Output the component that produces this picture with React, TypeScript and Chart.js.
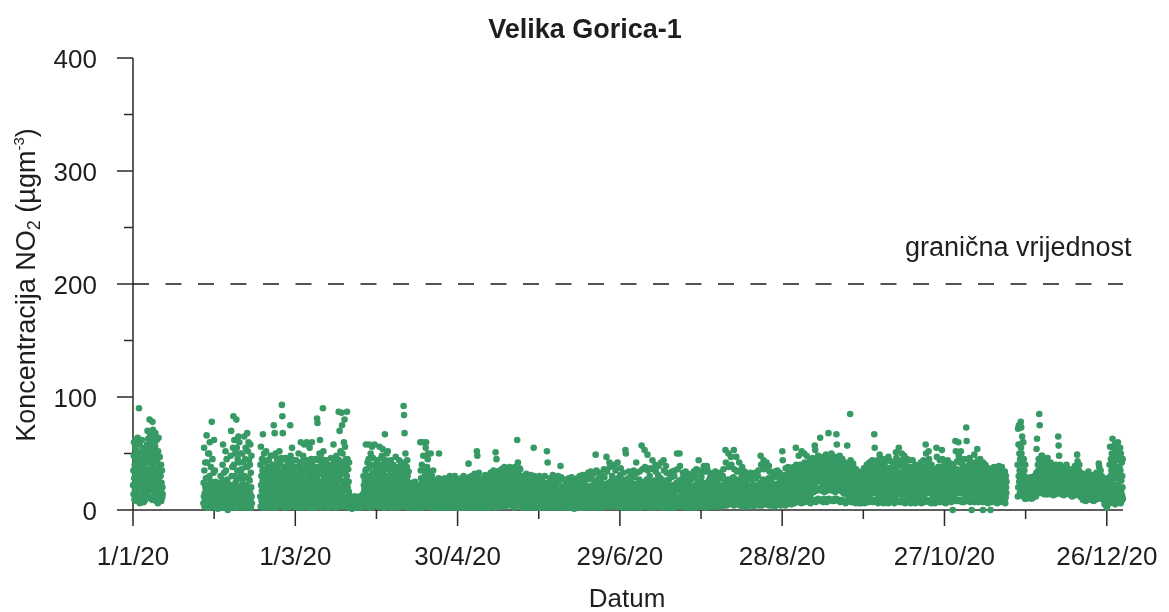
import React, { useEffect, useRef } from "react";
import { Chart, registerables } from "chart.js";

Chart.register(...registerables);

// ---------- DATA (NO2 concentrations, 12 values per day) ----------
const VALUES_PER_DAY = 12;

// 1–11 Jan
const jan1to11 = [
  22, 35, 14, 48, 60, 28, 9, 40, 18, 55, 31, 12,
  16, 44, 26, 62, 8, 37, 52, 20, 64, 33, 11, 46,
  30, 12, 90, 41, 58, 24, 6, 50, 19, 36, 61, 27,
  10, 42, 21, 62, 34, 15, 55, 8, 29, 47, 18, 38,
  7, 25, 13, 40, 20, 52, 9, 31, 16, 45, 11, 23,
  15, 36, 58, 24, 70, 42, 11, 63, 30, 48, 19, 54,
  26, 80, 44, 18, 66, 35, 57, 12, 49, 22, 61, 38,
  9, 41, 78, 28, 71, 53, 17, 64, 33, 46, 21, 59,
  32, 14, 56, 68, 25, 43, 8, 50, 37, 62, 19, 45,
  12, 34, 6, 52, 27, 64, 18, 40, 10, 30, 47, 22,
  9, 18, 30, 13, 40, 8, 24, 15, 35, 11, 20, 14,
];
// 27 Jan – 13 Feb
const jan27toFeb13 = [
  6, 24, 12, 55, 35, 3, 15, 9, 42, 20, 4, 28,
  18, 4, 66, 28, 9, 42, 13, 2, 22, 50, 7, 16,
  2, 50, 14, 30, 60, 21, 8, 17, 5, 38, 11, 25,
  11, 78, 5, 24, 45, 16, 3, 20, 9, 33, 14, 62,
  8, 19, 2, 35, 13, 25, 5, 11, 17, 3, 22, 7,
  4, 16, 10, 24, 1, 20, 12, 6, 18, 3, 9, 14,
  13, 3, 22, 8, 30, 17, 5, 11, 19, 2, 25, 9,
  7, 40, 18, 58, 2, 26, 12, 4, 33, 15, 9, 21,
  15, 5, 52, 11, 35, 21, 3, 45, 8, 18, 27, 12,
  0, 12, 23, 6, 18, 9, 3, 15, 20, 5, 11, 2,
  19, 48, 3, 70, 10, 30, 6, 14, 38, 22, 8, 55,
  8, 83, 14, 40, 22, 62, 4, 30, 11, 50, 18, 2,
  25, 6, 80, 17, 55, 12, 35, 3, 45, 9, 28, 65,
  3, 42, 20, 60, 9, 28, 14, 50, 6, 33, 17, 2,
  14, 36, 5, 22, 50, 11, 27, 3, 18, 42, 8, 30,
  7, 65, 18, 30, 2, 45, 12, 55, 22, 5, 38, 15,
  21, 9, 68, 38, 13, 52, 4, 28, 60, 16, 44, 7,
  4, 26, 40, 15, 58, 10, 33, 2, 20, 48, 12, 6,
];
// 17–29 Feb
const feb17to29 = [
  12, 40, 3, 56, 22, 30, 8, 17, 45, 5, 35, 26,
  67, 8, 25, 36, 15, 50, 2, 42, 20, 11, 31, 6,
  4, 28, 52, 18, 35, 10, 24, 7, 44, 14, 3, 38,
  20, 2, 44, 13, 38, 26, 9, 33, 5, 16, 48, 11,
  9, 30, 16, 48, 5, 22, 40, 2, 27, 12, 35, 19,
  75, 14, 40, 7, 68, 24, 32, 4, 50, 18, 10, 28,
  2, 26, 11, 45, 19, 36, 6, 30, 15, 40, 23, 8,
  17, 52, 6, 28, 42, 10, 34, 3, 21, 46, 13, 25,
  93, 21, 83, 4, 68, 32, 12, 45, 26, 7, 38, 16,
  13, 38, 2, 24, 46, 8, 30, 18, 5, 35, 10, 27,
  27, 6, 42, 16, 34, 20, 3, 11, 38, 24, 9, 45,
  3, 75, 12, 48, 25, 30, 7, 40, 18, 55, 14, 22,
  15, 35, 7, 22, 44, 11, 28, 3, 19, 38, 9, 30,
];
// March
const mar = [
  8, 32, 15, 44, 4, 25, 19, 38, 11, 2, 28, 14,
  20, 3, 50, 12, 38, 28, 7, 34, 16, 42, 23, 5,
  60, 10, 30, 5, 42, 18, 25, 36, 2, 14, 48, 21,
  14, 45, 24, 58, 8, 34, 3, 19, 40, 11, 28, 6,
  3, 26, 60, 12, 36, 20, 9, 44, 16, 30, 5, 24,
  40, 7, 22, 55, 15, 30, 2, 35, 18, 10, 45, 26,
  24, 60, 9, 42, 16, 4, 33, 20, 12, 38, 27, 6,
  12, 30, 2, 20, 45, 8, 25, 15, 36, 5, 18, 28,
  81, 26, 77, 12, 38, 6, 44, 20, 32, 3, 15, 50,
  5, 62, 20, 32, 48, 14, 9, 38, 25, 2, 42, 17,
  36, 9, 90, 22, 52, 14, 28, 4, 44, 18, 33, 11,
  16, 38, 4, 25, 44, 10, 30, 20, 7, 35, 13, 2,
  6, 28, 12, 40, 18, 3, 23, 34, 9, 15, 30, 5,
  27, 10, 46, 20, 35, 7, 14, 40, 3, 25, 18, 31,
  4, 58, 18, 30, 42, 13, 26, 8, 36, 21, 2, 45,
  22, 8, 48, 28, 12, 40, 5, 33, 17, 38, 26, 10,
  87, 12, 44, 28, 70, 6, 35, 20, 52, 3, 40, 16,
  15, 86, 32, 75, 10, 50, 24, 42, 5, 36, 18, 60,
  40, 7, 80, 26, 56, 18, 33, 12, 45, 3, 22, 38,
  30, 87, 5, 45, 20, 12, 36, 8, 25, 16, 42, 2,
  3, 10, 6, 12, 2, 8, 5, 9, 4, 11, 7, 1,
  5, 2, 11, 7, 9, 4, 8, 3, 12, 6, 10, 2,
  7, 12, 3, 10, 6, 2, 9, 4, 11, 5, 8, 3,
  4, 9, 11, 5, 8, 3, 10, 6, 2, 12, 7, 5,
  10, 2, 6, 12, 4, 8, 3, 11, 7, 5, 9, 14,
  14, 4, 30, 10, 22, 6, 18, 3, 26, 8, 12, 35,
  22, 58, 8, 36, 20, 3, 28, 14, 42, 6, 30, 11,
  10, 45, 5, 58, 18, 30, 38, 2, 24, 14, 50, 8,
  28, 4, 40, 20, 56, 12, 33, 8, 46, 17, 3, 25,
  8, 32, 14, 58, 4, 22, 40, 18, 28, 6, 36, 11,
  26, 9, 44, 16, 36, 5, 20, 30, 3, 13, 40, 24,
];
// April
const apr = [
  18, 56, 5, 40, 28, 11, 34, 3, 22, 46, 14, 8,
  48, 4, 22, 54, 14, 32, 9, 38, 26, 2, 18, 42,
  10, 67, 30, 6, 44, 20, 36, 15, 3, 50, 25, 12,
  26, 7, 52, 15, 38, 3, 20, 42, 10, 31, 5, 17,
  5, 36, 20, 44, 8, 24, 13, 30, 2, 40, 18, 27,
  22, 12, 40, 3, 30, 6, 18, 35, 9, 25, 14, 4,
  9, 47, 16, 25, 4, 38, 21, 12, 33, 2, 28, 7,
  34, 3, 24, 14, 44, 8, 18, 30, 5, 38, 11, 22,
  6, 40, 20, 28, 12, 42, 3, 33, 16, 24, 9, 36,
  92, 14, 84, 30, 68, 9, 40, 22, 50, 4, 35, 18,
  18, 4, 38, 26, 44, 10, 30, 14, 2, 22, 34, 7,
  8, 16, 3, 22, 12, 5, 18, 10, 2, 14, 20, 6,
  14, 2, 24, 9, 18, 4, 11, 20, 6, 16, 3, 12,
  10, 20, 3, 25, 12, 6, 17, 8, 22, 4, 14, 2,
  3, 15, 8, 21, 10, 2, 12, 6, 18, 4, 9, 14,
  22, 6, 60, 14, 35, 4, 28, 10, 18, 40, 2, 25,
  3, 60, 18, 48, 8, 28, 12, 35, 22, 5, 30, 15,
  30, 8, 55, 16, 60, 5, 24, 12, 38, 20, 3, 45,
  12, 50, 5, 34, 20, 3, 26, 9, 16, 30, 7, 22,
  50, 7, 26, 4, 18, 10, 30, 14, 2, 22, 12, 35,
  4, 18, 8, 25, 14, 2, 11, 20, 6, 16, 3, 23,
  15, 3, 26, 10, 20, 6, 13, 2, 22, 8, 17, 28,
  2, 50, 12, 24, 5, 16, 20, 8, 14, 3, 26, 10,
  13, 27, 3, 17, 9, 5, 22, 11, 2, 19, 7, 15,
  22, 4, 28, 11, 16, 3, 8, 19, 13, 2, 25, 6,
  6, 19, 2, 25, 12, 8, 15, 4, 21, 10, 3, 17,
  15, 30, 5, 24, 4, 12, 20, 9, 2, 17, 26, 7,
  2, 14, 26, 10, 18, 3, 7, 22, 12, 5, 16, 30,
  9, 28, 4, 21, 16, 5, 13, 2, 24, 11, 18, 6,
  23, 11, 2, 27, 13, 4, 8, 19, 15, 3, 21, 9,
];
// May
const may = [
  5, 22, 10, 28, 3, 15, 8, 18, 2, 12, 25, 6,
  18, 4, 30, 12, 25, 2, 9, 20, 15, 6, 11, 3,
  9, 26, 2, 20, 14, 6, 17, 4, 11, 23, 8, 13,
  41, 5, 17, 29, 3, 12, 20, 8, 14, 2, 24, 10,
  16, 30, 4, 24, 11, 3, 19, 7, 13, 26, 2, 9,
  6, 26, 13, 32, 4, 18, 10, 21, 2, 15, 8, 24,
  22, 52, 4, 48, 16, 6, 28, 11, 19, 2, 33, 9,
  3, 15, 28, 10, 22, 5, 12, 19, 7, 25, 2, 17,
  13, 2, 27, 9, 19, 3, 16, 6, 22, 11, 4, 14,
  24, 6, 31, 12, 16, 4, 20, 9, 27, 2, 14, 18,
  2, 23, 14, 29, 3, 11, 18, 7, 25, 13, 5, 20,
  17, 4, 33, 13, 26, 5, 10, 22, 3, 19, 8, 28,
  6, 28, 12, 35, 20, 4, 16, 24, 9, 30, 2, 14,
  51, 8, 29, 18, 45, 6, 22, 12, 34, 3, 25, 15,
  12, 34, 3, 26, 18, 5, 22, 9, 30, 14, 7, 20,
  20, 5, 36, 14, 30, 3, 25, 10, 18, 8, 28, 12,
  8, 32, 16, 38, 6, 24, 13, 28, 3, 20, 11, 35,
  22, 4, 35, 18, 37, 9, 27, 14, 31, 6, 24, 12,
  7, 26, 14, 38, 20, 34, 10, 30, 4, 22, 17, 28,
  30, 6, 22, 15, 36, 4, 26, 12, 33, 9, 19, 2,
  3, 24, 38, 17, 6, 33, 12, 28, 20, 9, 36, 15,
  62, 10, 28, 42, 20, 8, 32, 16, 24, 4, 37, 13,
  14, 36, 5, 20, 30, 4, 25, 11, 17, 2, 28, 9,
  6, 24, 11, 30, 3, 16, 20, 8, 26, 13, 2, 18,
  18, 2, 26, 12, 32, 4, 22, 9, 15, 28, 6, 11,
  5, 22, 10, 28, 2, 15, 18, 7, 24, 12, 3, 20,
  17, 31, 3, 25, 13, 5, 21, 9, 15, 27, 2, 11,
  4, 55, 19, 30, 6, 15, 24, 10, 28, 2, 13, 21,
  23, 6, 14, 29, 3, 10, 18, 26, 8, 16, 2, 21,
  2, 16, 30, 12, 24, 4, 20, 9, 27, 14, 6, 18,
  13, 27, 5, 21, 2, 9, 16, 24, 11, 3, 19, 7,
];
// June
const jun = [
  16, 3, 30, 11, 24, 4, 11, 8, 17, 13, 2, 21,
  52, 5, 22, 42, 16, 6, 20, 12, 23, 3, 19, 9,
  2, 28, 10, 22, 15, 3, 10, 7, 15, 12, 5, 20,
  25, 6, 31, 12, 17, 4, 13, 9, 17, 2, 14, 19,
  13, 27, 2, 20, 9, 4, 8, 23, 6, 11, 18, 3,
  3, 16, 30, 13, 24, 5, 12, 8, 17, 11, 2, 18,
  39, 5, 15, 29, 12, 4, 14, 9, 15, 2, 18, 7,
  10, 21, 2, 27, 14, 3, 9, 6, 13, 12, 4, 19,
  19, 4, 25, 8, 12, 2, 8, 21, 6, 14, 3, 10,
  3, 28, 15, 22, 11, 4, 11, 7, 15, 13, 2, 17,
  14, 29, 5, 26, 10, 3, 12, 8, 13, 16, 2, 12,
  20, 1, 25, 9, 13, 2, 9, 6, 12, 11, 4, 15,
  4, 23, 11, 28, 15, 3, 11, 8, 15, 13, 2, 21,
  17, 30, 3, 24, 12, 5, 13, 9, 17, 14, 2, 19,
  5, 26, 13, 31, 18, 2, 14, 9, 18, 15, 4, 20,
  22, 4, 29, 10, 15, 3, 10, 7, 15, 12, 2, 20,
  6, 27, 19, 33, 14, 4, 15, 10, 20, 16, 3, 21,
  20, 3, 34, 15, 28, 6, 16, 11, 21, 17, 2, 9,
  13, 32, 5, 26, 18, 4, 14, 9, 19, 15, 3, 20,
  49, 7, 22, 35, 14, 4, 19, 11, 21, 18, 2, 24,
  6, 28, 19, 33, 14, 5, 16, 10, 20, 16, 3, 21,
  25, 2, 31, 12, 17, 3, 13, 8, 17, 14, 5, 19,
  15, 36, 4, 29, 20, 6, 17, 11, 22, 17, 3, 23,
  47, 6, 21, 34, 16, 4, 19, 11, 20, 18, 3, 24,
  24, 42, 7, 38, 18, 5, 21, 13, 23, 21, 3, 26,
  3, 30, 16, 40, 22, 4, 19, 11, 24, 19, 7, 25,
  39, 6, 23, 17, 35, 5, 20, 12, 21, 20, 3, 25,
  20, 42, 3, 28, 14, 6, 16, 10, 23, 17, 4, 22,
  5, 31, 21, 37, 15, 4, 18, 11, 19, 18, 2, 23,
  27, 2, 18, 33, 13, 4, 14, 9, 19, 16, 6, 20,
];
// July
const jul = [
  53, 6, 50, 24, 18, 4, 22, 12, 25, 20, 2, 27,
  4, 28, 14, 34, 19, 6, 17, 10, 21, 17, 3, 22,
  26, 3, 32, 12, 17, 2, 14, 9, 19, 15, 5, 20,
  15, 35, 5, 29, 20, 4, 18, 11, 22, 18, 2, 23,
  42, 4, 21, 33, 16, 6, 19, 11, 20, 19, 3, 24,
  13, 27, 3, 34, 18, 5, 16, 10, 20, 16, 2, 21,
  57, 5, 22, 36, 17, 3, 20, 12, 23, 20, 7, 25,
  24, 53, 6, 38, 18, 7, 22, 13, 25, 21, 3, 27,
  16, 4, 49, 35, 21, 5, 20, 11, 22, 19, 2, 25,
  30, 5, 20, 37, 15, 3, 18, 11, 23, 18, 8, 24,
  44, 6, 23, 36, 18, 4, 21, 12, 23, 20, 2, 26,
  22, 40, 4, 34, 16, 6, 19, 11, 21, 19, 3, 24,
  17, 31, 5, 39, 21, 3, 18, 10, 24, 14, 7, 24,
  28, 3, 42, 14, 19, 5, 16, 10, 21, 17, 2, 22,
  6, 44, 18, 35, 24, 4, 21, 12, 22, 20, 3, 26,
  39, 4, 20, 33, 15, 6, 18, 10, 19, 18, 2, 23,
  13, 27, 2, 32, 18, 3, 15, 9, 19, 15, 6, 21,
  29, 4, 19, 34, 14, 5, 17, 10, 21, 17, 2, 22,
  16, 30, 6, 35, 21, 4, 19, 11, 22, 19, 3, 24,
  23, 50, 3, 36, 18, 6, 21, 12, 23, 21, 8, 26,
  50, 7, 39, 22, 17, 5, 20, 12, 24, 20, 3, 25,
  14, 28, 4, 33, 19, 3, 16, 9, 20, 16, 6, 22,
  29, 6, 20, 34, 15, 4, 17, 10, 21, 18, 2, 23,
  13, 32, 5, 27, 18, 3, 15, 9, 19, 15, 6, 21,
  26, 3, 31, 12, 17, 5, 14, 8, 18, 14, 2, 20,
  4, 28, 14, 34, 19, 2, 16, 10, 20, 16, 6, 22,
  30, 6, 21, 36, 16, 4, 19, 11, 23, 19, 3, 25,
  17, 44, 5, 35, 22, 7, 20, 12, 22, 20, 3, 26,
  4, 29, 15, 33, 20, 3, 17, 10, 20, 17, 7, 23,
  39, 6, 21, 34, 16, 5, 19, 11, 21, 19, 2, 24,
  22, 39, 4, 36, 17, 5, 20, 12, 23, 20, 8, 26,
];
// August
const aug = [
  14, 33, 3, 28, 19, 5, 16, 9, 20, 16, 7, 22,
  27, 4, 32, 13, 18, 6, 15, 10, 19, 15, 3, 21,
  6, 29, 15, 34, 20, 4, 18, 11, 21, 17, 8, 23,
  26, 3, 31, 12, 17, 5, 14, 9, 18, 14, 7, 20,
  14, 33, 5, 28, 19, 3, 17, 10, 20, 16, 8, 22,
  30, 6, 21, 36, 16, 4, 19, 12, 23, 19, 9, 24,
  53, 6, 42, 18, 24, 4, 22, 13, 26, 21, 9, 27,
  17, 50, 5, 38, 23, 7, 23, 13, 25, 20, 10, 27,
  47, 7, 40, 19, 25, 5, 24, 14, 27, 22, 10, 29,
  22, 53, 4, 36, 18, 6, 22, 13, 24, 25, 9, 27,
  47, 8, 21, 34, 17, 6, 21, 12, 22, 24, 10, 26,
  16, 42, 5, 35, 20, 4, 20, 11, 21, 23, 8, 25,
  30, 6, 38, 15, 21, 3, 18, 11, 23, 18, 9, 24,
  14, 34, 6, 31, 19, 5, 17, 10, 19, 16, 8, 22,
  27, 3, 32, 13, 18, 4, 15, 9, 18, 15, 7, 20,
  6, 29, 15, 33, 19, 5, 17, 10, 20, 17, 8, 22,
  26, 4, 31, 12, 17, 3, 14, 9, 18, 14, 7, 20,
  14, 33, 7, 28, 19, 5, 17, 10, 20, 16, 9, 22,
  30, 5, 35, 15, 20, 4, 18, 11, 22, 18, 8, 24,
  48, 6, 40, 17, 23, 4, 22, 12, 25, 20, 9, 27,
  16, 44, 7, 36, 22, 5, 21, 12, 23, 19, 10, 26,
  40, 7, 42, 18, 24, 5, 23, 13, 26, 21, 10, 28,
  15, 39, 4, 34, 21, 6, 19, 11, 21, 18, 8, 24,
  28, 6, 33, 14, 19, 4, 17, 10, 20, 16, 8, 22,
  15, 29, 3, 34, 20, 5, 18, 11, 21, 17, 9, 23,
  30, 7, 35, 16, 21, 5, 19, 12, 22, 19, 9, 24,
  14, 33, 5, 28, 20, 4, 17, 10, 20, 17, 8, 22,
  52, 7, 44, 18, 25, 6, 23, 13, 26, 21, 10, 28,
  16, 31, 4, 37, 22, 5, 20, 12, 23, 19, 9, 25,
  32, 7, 38, 17, 23, 6, 21, 12, 24, 20, 10, 26,
  15, 36, 6, 30, 21, 5, 19, 11, 22, 18, 9, 24,
];
// September
const sep = [
  32, 7, 38, 16, 23, 6, 28, 12, 34, 20, 16, 26,
  55, 8, 40, 18, 25, 7, 31, 13, 36, 22, 16, 28,
  20, 48, 7, 36, 26, 9, 32, 14, 40, 23, 17, 29,
  34, 6, 52, 17, 24, 8, 30, 13, 38, 21, 16, 27,
  22, 50, 9, 42, 28, 7, 34, 15, 39, 25, 18, 31,
  48, 8, 39, 20, 30, 10, 35, 16, 42, 26, 18, 32,
  19, 36, 7, 44, 27, 6, 32, 14, 40, 24, 17, 29,
  40, 9, 46, 23, 30, 8, 35, 16, 43, 27, 18, 33,
  57, 8, 53, 24, 32, 7, 38, 17, 45, 28, 19, 35,
  26, 42, 10, 48, 33, 9, 37, 18, 44, 29, 19, 35,
  64, 9, 45, 25, 31, 8, 36, 17, 42, 28, 18, 34,
  22, 40, 7, 47, 30, 10, 36, 16, 43, 27, 19, 33,
  43, 8, 49, 24, 32, 7, 37, 17, 45, 28, 18, 35,
  27, 68, 10, 46, 34, 9, 39, 18, 44, 30, 20, 36,
  44, 9, 50, 25, 33, 8, 38, 17, 46, 29, 19, 35,
  23, 42, 8, 47, 31, 10, 37, 16, 44, 27, 18, 34,
  67, 10, 58, 28, 36, 9, 40, 19, 47, 31, 20, 37,
  24, 43, 8, 48, 32, 7, 37, 17, 44, 28, 18, 35,
  40, 9, 45, 22, 30, 8, 35, 15, 41, 26, 18, 32,
  20, 36, 7, 42, 27, 6, 32, 14, 38, 24, 16, 29,
  57, 8, 40, 21, 28, 9, 33, 14, 37, 25, 17, 30,
  24, 85, 9, 44, 30, 7, 35, 15, 40, 26, 18, 32,
  35, 7, 41, 19, 26, 8, 31, 13, 37, 23, 16, 28,
  17, 31, 6, 36, 23, 7, 28, 12, 33, 20, 15, 25,
  30, 7, 34, 16, 22, 6, 27, 11, 31, 19, 15, 24,
  15, 28, 6, 33, 21, 8, 25, 11, 30, 18, 15, 23,
  31, 7, 37, 17, 24, 6, 28, 12, 33, 20, 16, 26,
  19, 34, 8, 40, 26, 7, 30, 13, 36, 22, 16, 28,
  36, 7, 42, 20, 27, 9, 32, 14, 38, 24, 17, 30,
  21, 38, 8, 44, 28, 7, 33, 15, 40, 25, 17, 31,
];
// October
const oct = [
  67, 9, 55, 24, 30, 8, 35, 15, 42, 27, 18, 33,
  20, 38, 7, 44, 27, 6, 32, 13, 36, 23, 16, 29,
  49, 8, 40, 22, 28, 9, 33, 14, 38, 25, 17, 31,
  19, 36, 7, 45, 26, 6, 31, 13, 38, 23, 16, 29,
  43, 9, 38, 21, 28, 8, 32, 14, 36, 25, 17, 30,
  18, 34, 6, 47, 25, 7, 30, 12, 37, 22, 16, 28,
  37, 8, 43, 20, 27, 9, 31, 13, 36, 24, 17, 29,
  19, 35, 7, 41, 26, 6, 30, 12, 34, 22, 16, 28,
  51, 9, 46, 23, 30, 8, 34, 15, 39, 26, 18, 32,
  22, 55, 8, 44, 29, 7, 33, 14, 40, 25, 17, 31,
  40, 7, 50, 21, 28, 9, 33, 14, 38, 25, 17, 30,
  24, 48, 8, 44, 30, 6, 34, 15, 39, 26, 18, 32,
  39, 9, 45, 22, 29, 8, 33, 14, 37, 25, 17, 31,
  20, 44, 7, 38, 27, 6, 31, 13, 35, 23, 16, 29,
  37, 8, 44, 21, 28, 9, 32, 14, 36, 24, 17, 30,
  18, 33, 6, 40, 25, 7, 29, 12, 34, 21, 16, 27,
  35, 7, 38, 19, 26, 8, 30, 12, 33, 22, 16, 28,
  20, 36, 8, 42, 27, 6, 31, 13, 35, 23, 16, 29,
  38, 9, 44, 22, 29, 7, 33, 14, 37, 25, 17, 31,
  58, 8, 50, 24, 30, 9, 35, 15, 40, 27, 18, 33,
  23, 52, 7, 45, 31, 8, 35, 15, 39, 27, 18, 33,
  35, 6, 40, 19, 26, 7, 30, 12, 33, 22, 16, 28,
  17, 33, 8, 36, 24, 6, 28, 11, 31, 20, 15, 26,
  55, 9, 47, 22, 30, 8, 34, 14, 38, 26, 17, 32,
  20, 38, 7, 44, 27, 9, 32, 13, 36, 24, 16, 29,
  53, 8, 45, 23, 30, 7, 34, 14, 39, 26, 17, 32,
  21, 37, 7, 42, 28, 6, 32, 13, 35, 24, 16, 30,
  40, 9, 44, 22, 29, 8, 33, 14, 37, 25, 17, 31,
  20, 36, 8, 41, 27, 7, 31, 13, 34, 23, 16, 29,
  0, 35, 19, 40, 26, 8, 30, 12, 33, 22, 16, 28,
  61, 9, 52, 24, 32, 8, 36, 15, 43, 28, 18, 34,
];
// 1–18 Nov
const nov1to18 = [
  22, 60, 8, 48, 30, 9, 35, 15, 42, 27, 18, 33,
  52, 9, 44, 24, 31, 7, 36, 15, 40, 28, 18, 33,
  20, 38, 7, 45, 27, 8, 32, 13, 36, 24, 16, 29,
  73, 10, 61, 26, 34, 9, 38, 16, 45, 29, 19, 36,
  21, 40, 8, 46, 29, 7, 33, 14, 38, 25, 17, 31,
  0, 36, 19, 42, 27, 8, 31, 13, 35, 23, 16, 29,
  49, 7, 40, 22, 29, 9, 33, 14, 37, 25, 17, 31,
  23, 54, 8, 44, 30, 7, 34, 15, 39, 26, 18, 32,
  39, 9, 45, 21, 28, 8, 33, 14, 37, 25, 17, 30,
  7, 37, 0, 42, 26, 9, 31, 13, 35, 23, 16, 29,
  20, 40, 8, 38, 27, 7, 31, 13, 34, 23, 16, 29,
  33, 6, 37, 18, 25, 8, 29, 12, 32, 21, 15, 27,
  0, 32, 17, 36, 24, 7, 28, 11, 31, 20, 15, 26,
  19, 34, 8, 38, 26, 9, 30, 12, 33, 22, 16, 28,
  31, 7, 35, 18, 24, 6, 28, 11, 31, 20, 15, 26,
  20, 39, 8, 36, 26, 7, 30, 12, 33, 22, 16, 28,
  36, 9, 38, 21, 27, 8, 31, 13, 34, 23, 16, 29,
  18, 30, 7, 34, 24, 6, 27, 11, 30, 20, 15, 25,
];
// 23–30 Nov
const nov23to30 = [
  40, 12, 72, 20, 58, 30, 75, 25, 50, 35, 15, 45,
  75, 28, 78, 55, 73, 50, 40, 22, 65, 30, 18, 60,
  22, 60, 12, 45, 15, 30, 35, 18, 25, 10, 40, 20,
  16, 29, 10, 24, 12, 20, 26, 14, 22, 11, 18, 27,
  22, 11, 28, 14, 26, 18, 20, 12, 24, 16, 29, 13,
  16, 25, 10, 29, 12, 20, 23, 14, 27, 11, 18, 22,
  27, 13, 30, 19, 23, 15, 25, 17, 28, 12, 21, 33,
  54, 14, 63, 22, 30, 18, 40, 16, 35, 25, 45, 20,
];
// December
const dec = [
  85, 18, 75, 30, 40, 20, 36, 16, 45, 25, 48, 22,
  24, 48, 15, 38, 17, 30, 27, 20, 35, 14, 42, 22,
  42, 16, 40, 26, 18, 32, 24, 14, 36, 21, 29, 19,
  22, 46, 14, 36, 16, 28, 32, 19, 25, 15, 40, 21,
  34, 15, 42, 24, 17, 30, 21, 27, 14, 36, 19, 23,
  21, 38, 13, 32, 15, 27, 24, 18, 30, 14, 34, 20,
  35, 14, 40, 23, 16, 29, 21, 26, 15, 33, 18, 24,
  65, 16, 57, 28, 48, 18, 35, 22, 40, 25, 30, 20,
  22, 39, 14, 34, 15, 28, 25, 19, 31, 16, 36, 21,
  31, 13, 37, 20, 14, 26, 23, 17, 29, 15, 33, 19,
  22, 40, 15, 33, 16, 28, 25, 19, 30, 17, 36, 21,
  30, 14, 36, 21, 15, 25, 22, 17, 28, 13, 33, 19,
  19, 35, 12, 29, 14, 24, 21, 16, 27, 13, 31, 18,
  34, 13, 39, 22, 15, 27, 24, 18, 30, 14, 36, 20,
  49, 15, 43, 24, 16, 30, 27, 20, 35, 17, 40, 22,
  18, 33, 12, 28, 13, 23, 20, 15, 26, 11, 30, 17,
  24, 9, 32, 15, 11, 20, 17, 12, 27, 10, 22, 14,
  14, 30, 8, 22, 10, 18, 25, 12, 20, 9, 16, 27,
  26, 10, 34, 16, 12, 21, 18, 13, 29, 11, 24, 15,
  15, 31, 9, 23, 11, 19, 26, 13, 21, 10, 17, 28,
  22, 8, 29, 13, 10, 17, 15, 11, 25, 9, 20, 12,
  17, 33, 11, 27, 12, 22, 29, 14, 24, 10, 19, 31,
  41, 12, 38, 20, 32, 14, 26, 16, 35, 18, 29, 22,
  16, 30, 10, 25, 11, 20, 27, 13, 22, 9, 18, 24,
  9, 20, 5, 15, 6, 12, 17, 8, 13, 4, 10, 18,
  2, 28, 8, 18, 5, 14, 22, 10, 25, 6, 16, 12,
  40, 6, 56, 20, 30, 10, 45, 15, 35, 25, 50, 12,
  24, 63, 8, 48, 12, 36, 55, 18, 42, 30, 20, 58,
  38, 5, 52, 18, 28, 9, 44, 14, 33, 22, 48, 11,
  22, 60, 7, 44, 11, 32, 52, 16, 38, 27, 18, 55,
  35, 6, 50, 16, 26, 8, 42, 13, 30, 20, 45, 10,
];

// first day of each block of measurements (0 = 1 Jan 2020)
const blockStartDays = [0, 26, 47, 60, 91, 121, 152, 182, 213, 244, 274, 305, 327, 335];
const blocks = [jan1to11, jan27toFeb13, feb17to29, mar, apr, may, jun, jul, aug, sep, oct, nov1to18, nov23to30, dec];

const xMajorTickDays = [0, 60, 120, 180, 240, 300, 360];
const xMajorTickLabels = ["1/1/20", "1/3/20", "30/4/20", "29/6/20", "28/8/20", "27/10/20", "26/12/20"];
const xMinorTickDays = [30, 90, 150, 210, 270, 330];
const yMajorTicks = [0, 100, 200, 300, 400];
const yMinorTicks = [50, 150, 250, 350];
const X_MAX_DAY = 366;
const Y_MAX = 400;

const limitValue = 200;
const limitLabel = "granična vrijednost";
const chartTitle = "Velika Gorica-1";
const xAxisTitle = "Datum";

const POINT_COLOR = "#379a64";
const AXIS_COLOR = "#2a2a2a";
const TEXT_COLOR = "#1e1e1e";
const FONT = '"Liberation Sans", Arial, sans-serif';

function buildPoints() {
  const pts: { x: number; y: number }[] = [];
  blocks.forEach((vals, b) => {
    vals.forEach((v, i) => {
      pts.push({ x: blockStartDays[b] + (i + 0.5) / VALUES_PER_DAY, y: v });
    });
  });
  return pts;
}

const decorPlugin = {
  id: "decor",
  beforeDatasetsDraw(chart: any) {
    const { ctx } = chart;
    const x = chart.scales.x;
    const y = chart.scales.y;
    const left = x.getPixelForValue(0);
    const right = x.getPixelForValue(X_MAX_DAY);
    const bottom = y.getPixelForValue(0);
    const top = y.getPixelForValue(Y_MAX);
    ctx.save();
    ctx.strokeStyle = AXIS_COLOR;
    ctx.lineWidth = 1.5;
    ctx.beginPath();
    ctx.moveTo(left, top);
    ctx.lineTo(left, bottom);
    ctx.moveTo(left - 16, bottom);
    ctx.lineTo(right, bottom);
    yMajorTicks.forEach((v) => {
      const py = y.getPixelForValue(v);
      ctx.moveTo(left - 16, py);
      ctx.lineTo(left, py);
    });
    yMinorTicks.forEach((v) => {
      const py = y.getPixelForValue(v);
      ctx.moveTo(left - 9, py);
      ctx.lineTo(left, py);
    });
    xMajorTickDays.forEach((d) => {
      const px = x.getPixelForValue(d);
      ctx.moveTo(px, bottom);
      ctx.lineTo(px, bottom + 16);
    });
    xMinorTickDays.forEach((d) => {
      const px = x.getPixelForValue(d);
      ctx.moveTo(px, bottom);
      ctx.lineTo(px, bottom + 9);
    });
    ctx.stroke();

    ctx.fillStyle = TEXT_COLOR;
    ctx.font = `26px ${FONT}`;
    ctx.textAlign = "right";
    ctx.textBaseline = "alphabetic";
    yMajorTicks.forEach((v) => {
      const py = y.getPixelForValue(v);
      ctx.fillText(String(v), left - 36, py + 9.5);
    });
    ctx.textAlign = "center";
    xMajorTickDays.forEach((d, i) => {
      const px = x.getPixelForValue(d);
      ctx.fillText(xMajorTickLabels[i], px, bottom + 55);
    });
    ctx.fillText(xAxisTitle, 627, 607);

    ctx.font = `bold 27px ${FONT}`;
    ctx.fillText(chartTitle, 585, 38);

    ctx.font = `27px ${FONT}`;
    ctx.textAlign = "left";
    ctx.fillText(limitLabel, 905, 256);

    // rotated y-axis title with subscript / superscript
    const parts = [
      { t: "Koncentracija NO", size: 27, dy: 0 },
      { t: "2", size: 18, dy: 5 },
      { t: " (µgm", size: 27, dy: 0 },
      { t: "-3", size: 15, dy: -11 },
      { t: ")", size: 27, dy: 0 },
    ];
    let total = 0;
    parts.forEach((p) => {
      ctx.font = `${p.size}px ${FONT}`;
      total += ctx.measureText(p.t).width;
    });
    ctx.translate(35, (top + bottom) / 2 + 1);
    ctx.rotate(-Math.PI / 2);
    let cx = -total / 2;
    parts.forEach((p) => {
      ctx.font = `${p.size}px ${FONT}`;
      ctx.fillText(p.t, cx, p.dy);
      cx += ctx.measureText(p.t).width;
    });
    ctx.restore();
  },
};

export default function App() {
  const canvasRef = useRef<HTMLCanvasElement | null>(null);

  useEffect(() => {
    if (!canvasRef.current) return;
    const chart = new Chart(canvasRef.current, {
      type: "scatter",
      data: {
        datasets: [
          {
            label: "NO2",
            data: buildPoints(),
            backgroundColor: POINT_COLOR,
            borderWidth: 0,
            pointRadius: 3.3,
            pointHoverRadius: 3.3,
            clip: false,
          } as any,
          {
            type: "line",
            label: limitLabel,
            data: [
              { x: 0, y: limitValue },
              { x: X_MAX_DAY, y: limitValue },
            ],
            borderColor: "#1a1a1a",
            borderWidth: 1.5,
            borderDash: [16, 16.5],
            pointRadius: 0,
            fill: false,
            clip: false,
          } as any,
        ],
      },
      options: {
        animation: false,
        responsive: false,
        events: [],
        layout: { padding: { left: 133, right: 46, top: 58, bottom: 102 } },
        plugins: { legend: { display: false }, tooltip: { enabled: false }, title: { display: false } },
        scales: {
          x: { type: "linear", min: 0, max: X_MAX_DAY, display: false },
          y: { type: "linear", min: 0, max: Y_MAX, display: false },
        },
      },
      plugins: [decorPlugin],
    });
    return () => chart.destroy();
  }, []);

  return (
    <div style={{ position: "fixed", left: 0, top: 0, width: 1169, height: 612, background: "#fff" }}>
      <canvas ref={canvasRef} width={1169} height={612} style={{ width: 1169, height: 612 }} />
    </div>
  );
}
